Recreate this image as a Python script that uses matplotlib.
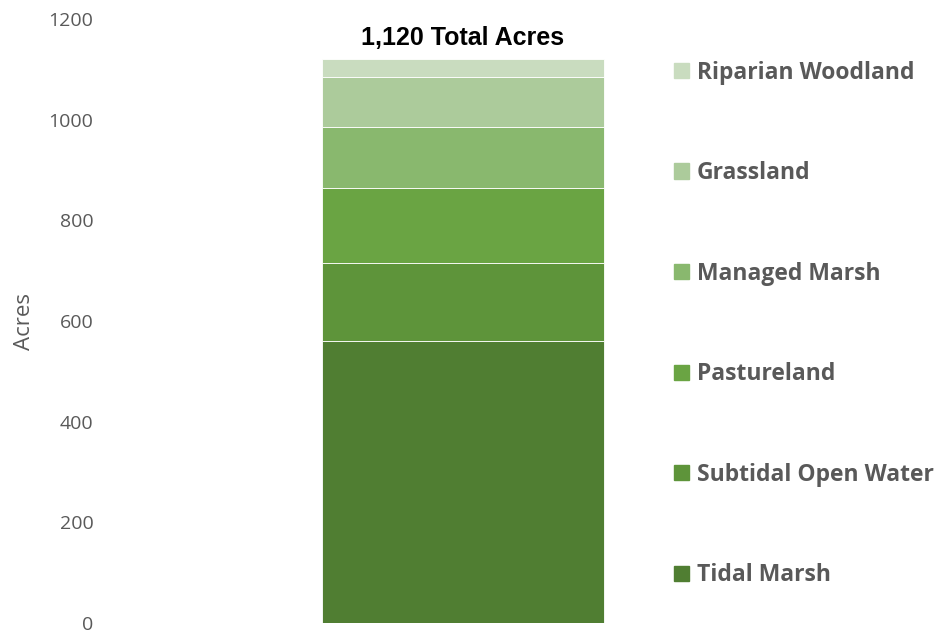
# Stacked bar of land cover acreage
import matplotlib.pyplot as plt
from matplotlib.patches import Patch

# Data (bottom to top)
categories = ['Tidal Marsh', 'Subtidal Open Water', 'Pastureland',
              'Managed Marsh', 'Grassland', 'Riparian Woodland']
acres = [560, 155, 150, 120, 100, 35]
colors = ['#507e32', '#5e943a', '#6aa443', '#89b86e', '#accb9b', '#c9dcbf']

gray = '#595959'

fig = plt.figure(figsize=(9.43, 6.33), dpi=100)
ax = fig.add_axes([110 / 943, 10 / 633, 705 / 943, 604 / 633])

# Stack the segments
bottom = 0
for name, val, col in zip(categories, acres, colors):
    ax.bar(0, val, bottom=bottom, width=0.4, color=col,
           edgecolor='white', linewidth=0.6, label=name)
    bottom += val

total = sum(acres)
ax.annotate(f'{total:,} Total Acres', xy=(0, total), xytext=(0, 7),
            textcoords='offset points', ha='center', va='bottom',
            fontsize=18, fontweight='bold', family='Liberation Sans',
            color='black')

ax.set_xlim(-0.5, 0.5)
ax.set_ylim(0, 1200)
ax.set_yticks(range(0, 1201, 200))
ax.set_xticks([])
for lbl in ax.get_yticklabels():
    lbl.set_family('Open Sans')
    lbl.set_fontsize(14)
    lbl.set_color(gray)
ax.tick_params(axis='y', length=0, pad=12)
for s in ax.spines.values():
    s.set_visible(False)

ax.set_ylabel('Acres', fontsize=16, family='Open Sans', color=gray, labelpad=10)

# Legend, top entry first
handles = [Patch(color=c, label=n) for n, c in zip(categories, colors)][::-1]
leg = fig.legend(handles=handles, loc='upper left',
                 bbox_to_anchor=(653 / 943, 1 - 40 / 633),
                 frameon=False, handlelength=0.65, handleheight=0.65,
                 handletextpad=0.35, labelspacing=3.34,
                 prop={'family': 'Open Sans', 'weight': 'bold', 'size': 16.5})
for t in leg.get_texts():
    t.set_color(gray)

plt.savefig('out.png', dpi=100)
